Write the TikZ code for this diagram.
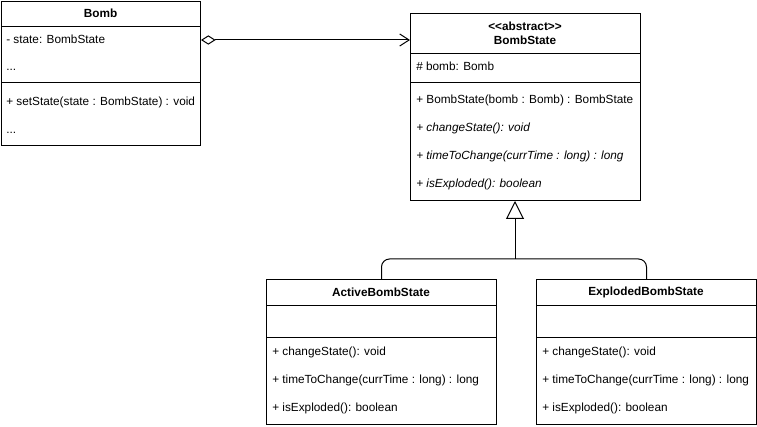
\documentclass[tikz,border=0pt]{standalone}
\usepackage{fontspec}
\setmainfont{Liberation Sans}
\usetikzlibrary{arrows.meta}

\tikzset{
  classbox/.style={draw, line width=0.75pt, inner sep=0pt, anchor=north west},
  member/.style={anchor=west, inner sep=0pt, text height=6.6pt, text depth=1.9pt, font=\fontsize{8.85}{10.5}\selectfont},
  abstractmember/.style={member, font=\itshape\fontsize{8.85}{10.5}\selectfont},
  classtitle/.style={inner sep=0pt, align=center, font=\bfseries\fontsize{8.85}{10.5}\selectfont},
  aggr/.style={line width=0.75pt, {Diamond[open,length=11pt,width=7pt]}-{Straight Barb[length=7pt,width=9pt]}},
  inherit/.style={line width=0.75pt, -{Triangle[open,length=13.5pt,width=13.5pt]}},
}

\begin{document}
\begin{tikzpicture}[x=0.75pt,y=0.75pt,yscale=-1,xscale=1]
\useasboundingbox (0,0) rectangle (757,427);

%Class Bomb
\node[classbox, minimum width=149.25pt, minimum height=108pt] (bomb) at (1,1) {};
\draw (bomb.west |- 0,26) -- (bomb.east |- 0,26);
\draw (bomb.west |- 0,82) -- (bomb.east |- 0,82);
\node[classtitle] (bomb-title) at (100.5,13.5) {Bomb};
\node[member] (bomb-a1) at (6,40) {- state: BombState};
\node[member] (bomb-a2) at (6,67) {...};
\node[member] (bomb-m1) at (6,102) {+ setState(state : BombState) : void};
\node[member] (bomb-m2) at (6,130) {...};

%Class BombState
\node[classbox, minimum width=172.5pt, minimum height=140.25pt] (bombstate) at (410,13) {};
\draw (bombstate.west |- 0,53) -- (bombstate.east |- 0,53);
\draw (bombstate.west |- 0,82) -- (bombstate.east |- 0,82);
\node[classtitle] (bombstate-title) at (525,33) {<\kern0pt<abstract>\kern0pt>\\BombState};
\node[member] (bombstate-a1) at (416,67) {\# bomb: Bomb};
\node[member] (bombstate-m1) at (416,100) {+ BombState(bomb : Bomb) : BombState};
\node[abstractmember] (bombstate-m2) at (416,128) {+ changeState(): void};
\node[abstractmember] (bombstate-m3) at (416,156) {+ timeToChange(currTime : long) : long};
\node[abstractmember] (bombstate-m4) at (416,184) {+ isExploded(): boolean};

%Class ActiveBombState
\node[classbox, minimum width=172.5pt, minimum height=108.75pt] (active) at (266,279) {};
\draw (active.west |- 0,305) -- (active.east |- 0,305);
\draw (active.west |- 0,337) -- (active.east |- 0,337);
\node[classtitle] (active-title) at (381,292.5) {ActiveBombState};
\node[member] (active-m1) at (272,352) {+ changeState(): void};
\node[member] (active-m2) at (272,380) {+ timeToChange(currTime : long) : long};
\node[member] (active-m3) at (272,408) {+ isExploded(): boolean};

%Class ExplodedBombState
\node[classbox, minimum width=165pt, minimum height=108.75pt] (exploded) at (536,279) {};
\draw (exploded.west |- 0,305) -- (exploded.east |- 0,305);
\draw (exploded.west |- 0,337) -- (exploded.east |- 0,337);
\node[classtitle] (exploded-title) at (646,292.5) {ExplodedBombState};
\node[member] (exploded-m1) at (542,352) {+ changeState(): void};
\node[member] (exploded-m2) at (542,380) {+ timeToChange(currTime : long) : long};
\node[member] (exploded-m3) at (542,408) {+ isExploded(): boolean};

%Aggregation
\draw[aggr] (bomb.east |- 0,40) -- (bombstate.west |- 0,40);

%Generalization
\coordinate (join) at (515,259);
\draw[line width=0.75pt, rounded corners=6pt] (active.north) |- (join) -| (exploded.north);
\draw[inherit] (join) -- (join |- bombstate.south);

\end{tikzpicture}
\end{document}
